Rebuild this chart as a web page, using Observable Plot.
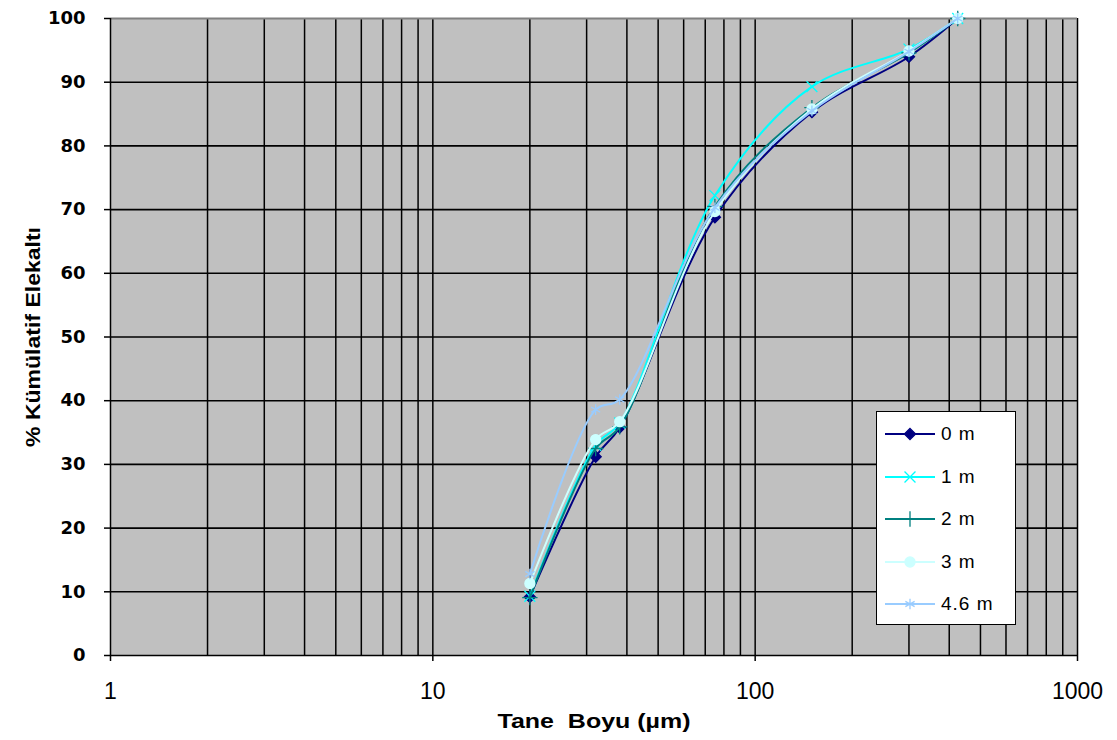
<!DOCTYPE html>
<html><head><meta charset="utf-8">
<script src="https://cdn.jsdelivr.net/npm/d3@7"></script>
<script src="https://cdn.jsdelivr.net/npm/@observablehq/plot@0.6"></script>
<style>
body{margin:0;background:#fff;}
#wrap{position:relative;width:1117px;height:740px;}
#legend{position:absolute;left:876px;top:411px;width:138px;height:212px;background:#fff;border:1.5px solid #000;font-family:"Liberation Sans",Arial,sans-serif;font-size:19px;}
.lrow{position:absolute;left:8px;height:30px;display:flex;align-items:center;}
.lrow span{margin-left:6px;letter-spacing:1px;}
</style></head><body>
<div id="wrap"><div id="legend"></div></div>
<script>
const sizes = [20, 32, 38, 75, 150, 300, 425];
const series = ["0 m", "1 m", "2 m", "3 m", "4.6 m"];
const m0  = [9.2, 31.2, 35.8, 68.8, 85.3, 94.0, 100];
const m1  = [9.3, 33.0, 36.5, 72.2, 89.3, 95.2, 100];
const m2  = [9.1, 32.5, 35.9, 70.5, 86.0, 94.6, 100];
const m3  = [11.3, 33.9, 36.7, 69.7, 85.8, 94.9, 100];
const m46 = [12.8, 38.6, 40.2, 70.3, 85.5, 94.8, 100];
const colors  = ["#000080", "#00ffff", "#008080", "#ccffff", "#99ccff"];
const symbols = ["diamond2", "times", "plus", "circle", "asterisk"];
const filled  = [true, false, false, true, false];
const xTicks = [1, 10, 100, 1000];
const xMinor = [2,3,4,5,6,7,8,9,20,30,40,50,60,70,80,90,200,300,400,500,600,700,800,900];
const yTicks = [0,10,20,30,40,50,60,70,80,90,100];

const values = [m0, m1, m2, m3, m46];
const data = [];
series.forEach((s, i) => sizes.forEach((x, j) => data.push({series: s, idx: i, x, y: values[i][j]})));

const marks = [
  Plot.frame({fill: "#c0c0c0", stroke: null}),
  Plot.ruleX(xMinor.concat([10, 100, 1000]), {stroke: "#000", strokeWidth: 1.5}),
  Plot.ruleY(yTicks.filter(d => d > 0 && d < 100), {stroke: "#000", strokeWidth: 1.6}),
  Plot.ruleY([100], {stroke: "#808080", strokeWidth: 2}),
  Plot.ruleX([1], {stroke: "#000", strokeWidth: 1.5}),
  Plot.ruleY([0], {stroke: "#000", strokeWidth: 1.5}),
  Plot.axisY({ticks: yTicks, tickSize: 6, tickPadding: 19, label: "% Kümülatif Elekaltı", labelAnchor: "center", labelArrow: "none", labelOffset: 85,
    fontFamily: "'DejaVu Sans', sans-serif", fontSize: 18, fontWeight: "bold"}),
  Plot.axisX({ticks: xTicks, tickSize: 6, tickPadding: 21, tickFormat: d => String(d), label: "Tane  Boyu (µm)", labelAnchor: "center", labelArrow: "none", labelOffset: 72,
    fontFamily: "'Liberation Sans', Arial, sans-serif", fontSize: 23})
];
series.forEach((s, i) => {
  const d = data.filter(r => r.idx === i);
  marks.push(Plot.line(d, {x: "x", y: "y", stroke: colors[i], strokeWidth: 2, curve: "catmull-rom"}));
  marks.push(Plot.dot(d, {x: "x", y: "y", symbol: symbols[i], r: 5,
    fill: filled[i] ? colors[i] : "none", stroke: colors[i], strokeWidth: 1.3}));
});

const chart = Plot.plot({
  width: 1117, height: 740,
  marginLeft: 110, marginRight: 40, marginTop: 18, marginBottom: 85,
  x: {type: "log", domain: [1, 1000]},
  y: {domain: [0, 100]},
  style: {background: "transparent", color: "#000"},
  marks
});
document.getElementById("wrap").prepend(chart);

const svg = d3.select(chart);
svg.selectAll('[aria-label="y-axis tick label"] text')
  .style("font-family", "'DejaVu Sans', sans-serif").style("font-size", "18px").style("font-weight", "bold");
svg.selectAll('[aria-label="x-axis tick label"] text')
  .style("font-family", "'Liberation Sans', Arial, sans-serif").style("font-size", "23px").style("font-weight", "normal");
svg.selectAll('[aria-label="y-axis label"] text, [aria-label="x-axis label"] text')
  .style("font-family", "'Liberation Sans', Arial, sans-serif").style("font-size", "21px").style("font-weight", "bold")
  .attr("lengthAdjust", "spacingAndGlyphs");
svg.selectAll('[aria-label="x-axis label"] text').attr("textLength", 193);
svg.selectAll('[aria-label="y-axis label"] text').attr("textLength", 220);
svg.selectAll('[aria-label="y-axis tick"], [aria-label="x-axis tick"]').attr("stroke-width", 1.5);

// legend
const leg = d3.select("#legend");
const symMap = {diamond2: d3.symbolDiamond2, times: d3.symbolTimes, plus: d3.symbolPlus, circle: d3.symbolCircle, asterisk: d3.symbolAsterisk};
series.forEach((s, i) => {
  const row = leg.append("div").attr("class", "lrow").style("top", (7 + i * 42.5) + "px");
  const sv = row.append("svg").attr("width", 50).attr("height", 20);
  sv.append("line").attr("x1", 0).attr("x2", 50).attr("y1", 10).attr("y2", 10).attr("stroke", colors[i]).attr("stroke-width", 2);
  sv.append("path").attr("transform", "translate(25,10)")
    .attr("d", d3.symbol(symMap[symbols[i]], 80)())
    .attr("fill", filled[i] ? colors[i] : "none").attr("stroke", colors[i]).attr("stroke-width", 1.3);
  row.append("span").text(s);
});
</script>
</body></html>
